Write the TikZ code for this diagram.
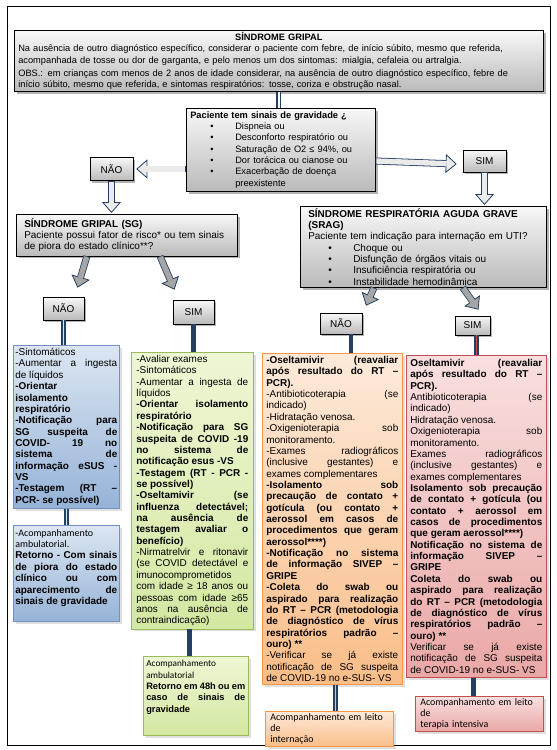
\documentclass[tikz,border=0pt]{standalone}
\usepackage{fontspec}
\setmainfont{Liberation Sans}
\newfontfamily\calibri{Carlito}
\usetikzlibrary{arrows.meta,shadows,calc}

\definecolor{arrnavy}{HTML}{243F60}
\definecolor{arrgray}{HTML}{A6A6A6}
\definecolor{bluetop}{HTML}{DCE6F2}
\definecolor{bluebot}{HTML}{95B3D7}
\definecolor{blueedge}{HTML}{7390C0}
\definecolor{greentop}{HTML}{EEF6D4}
\definecolor{greenbot}{HTML}{D3E8A2}
\definecolor{greenedge}{HTML}{9BBB59}
\definecolor{orangetop}{HTML}{FDEADA}
\definecolor{orangebot}{HTML}{F9BD88}
\definecolor{orangeedge}{HTML}{F79646}
\definecolor{redtop}{HTML}{F9DFDF}
\definecolor{redbot}{HTML}{E9A8A7}
\definecolor{rededge}{HTML}{C0504D}

\newcommand{\bitem}{\hspace*{20bp}\makebox[25bp][l]{\textbullet}}
\newcommand{\smallfont}{\fontsize{9.3}{11.4}\selectfont}
\hyphenpenalty=10000 \exhyphenpenalty=10000
\tolerance=10000 \hbadness=10000

\tikzset{
    every node/.style={font=\fontsize{10}{11.4}\selectfont},
    graybox/.style={draw=black, line width=.6pt, top color=black!3, bottom color=black!27,
    	drop shadow={shadow xshift=2.5pt, shadow yshift=-2.5pt, opacity=.6}},
    choice/.style={graybox, minimum width=#1, minimum height=23bp, inner sep=0pt},
    textbox/.style={anchor=north west, text width=#1, inner xsep=4bp, inner ysep=3bp},
    colbox/.style={align=justify, line width=.6pt, drop shadow={opacity=.25}},
    bluebox/.style={textbox=#1, colbox, draw=blueedge, top color=bluetop, bottom color=bluebot},
    greenbox/.style={textbox=#1, colbox, draw=greenedge, top color=greentop, bottom color=greenbot},
    orangebox/.style={textbox=#1, colbox, draw=orangeedge, top color=orangetop, bottom color=orangebot},
    redbox/.style={textbox=#1, colbox, draw=rededge, top color=redtop, bottom color=redbot}
}
\tikzset{
    blockarr/.style={draw=arrnavy, line width=7pt,
    	-{Triangle[length=11bp, width=19bp, line width=.8pt, fill=#1]},
    	postaction={draw=#1, line width=5.4pt, arrows=-, shorten >=10bp, shorten <=.8pt}},
    blockarr/.default=black!8,
    connbar/.style={draw=arrnavy, line width=5pt},
    stripebar/.style={connbar, postaction={draw=#1, line width=1.2pt}}
}

\begin{document}
\begin{tikzpicture}[x=1bp, y=-1bp]
  \useasboundingbox (0,0) rectangle (557,750);
  \draw[line width=.8pt] (7,6) rectangle (550,745);

  % top
  \node (sgtop) [graybox, textbox=521bp, align=left, inner ysep=2bp, font=\smallfont] at (14,30)
    {{\centering\textbf{SÍNDROME GRIPAL}\par}
     Na ausência de outro diagnóstico específico, considerar o paciente com febre, de início súbito, mesmo que referida,\\
     acompanhada de tosse ou dor de garganta, e pelo menos um dos sintomas: mialgia, cefaleia ou artralgia.\par
     \vspace{1.5bp}OBS.: em crianças com menos de 2 anos de idade considerar, na ausência de outro diagnóstico específico, febre de\\
     início súbito, mesmo que referida, e sintomas respiratórios: tosse, coriza e obstrução nasal.};
  \node (pac) [graybox, textbox=181bp, align=left, font=\smallfont] at (186,108)
    {\textbf{Paciente tem sinais de gravidade ¿}\\
     \bitem Dispneia ou\\
     \bitem Desconforto respiratório ou\\
     \bitem Saturação de O2 ≤ 94\%, ou\\
     \bitem Dor torácica ou cianose ou\\
     \bitem Exacerbação de doença\\
     \hspace*{45bp}preexistente};

  \node (nao1) [choice=43bp] at (111.5,169) {NÃO};
  \node (sim1) [choice=43bp, minimum height=22bp] at (484.5,161) {SIM};

  \node (sg) [graybox, textbox=205bp, align=left, inner xsep=8bp, inner ysep=4bp] at (16,214)
    {\textbf{SÍNDROME GRIPAL (SG)}\\
     Paciente possui fator de risco* ou tem sinais\\
     de piora do estado clínico**?};
  \node (srag) [graybox, textbox=230bp, align=left, inner xsep=8bp, inner ysep=2bp] at (300,206)
    {\textbf{SÍNDROME RESPIRATÓRIA AGUDA GRAVE}\\
     \textbf{(SRAG)}\\
     Paciente tem indicação para internação em UTI?\\
     \bitem Choque ou\\
     \bitem Disfunção de órgãos vitais ou\\
     \bitem Insuficiência respiratória ou\\
     \bitem Instabilidade hemodinâmica};

  \node (nao2) [choice=41bp] at (63.5,308.5) {NÃO};
  \node (sim2) [choice=41bp, minimum height=24bp] at (193.5,312) {SIM};
  \node (nao3) [choice=42bp, minimum height=21bp] at (341,323.5) {NÃO};
  \node (sim3) [choice=35bp, minimum height=19bp] at (472.5,325.5) {SIM};

  % SG sem fator de risco
  \node (blue1) [bluebox=102bp, inner xsep=2bp] at (13,345)
    {-Sintomáticos\\
     -Aumentar a ingesta \linebreak de líquidos\\
     \textbf{-Orientar \linebreak isolamento \linebreak respiratório}\\
     \textbf{-Notificação para \linebreak SG suspeita de \linebreak COVID- 19 no \linebreak sistema de \linebreak informação eSUS - \linebreak VS}\\
     \textbf{-Testagem (RT – \linebreak PCR- se possível)}};
  \node (blue2) [bluebox=102bp, inner xsep=2bp, inner ysep=4bp] at (13,525)
    {{\calibri -Acompanhamento\\ ambulatorial.}\\
     \textbf{Retorno - Com sinais \linebreak de piora do estado \linebreak clínico ou com \linebreak aparecimento de \linebreak sinais de gravidade}\\[2bp]};

  % SG com fator de risco
  \node (green1) [greenbox=112bp, inner xsep=5bp] at (131,352)
    {-Avaliar exames\\
     -Sintomáticos\\
     -Aumentar a ingesta de \linebreak líquidos\\
     \textbf{-Orientar isolamento \linebreak respiratório}\\
     \textbf{-Notificação para SG \linebreak suspeita de COVID -19 \linebreak no sistema de \linebreak notificação esus -VS}\\
     \textbf{-Testagem (RT - PCR - \linebreak se possível)}\\
     \textbf{-Oseltamivir (se \linebreak influenza detectável; \linebreak na ausência de \linebreak testagem avaliar o \linebreak benefício)}\\
     -Nirmatrelvir e ritonavir \linebreak (se COVID detectável e \linebreak imunocomprometidos \linebreak com idade ≥ 18 anos ou \linebreak pessoas com idade ≥65 \linebreak anos na ausência de \linebreak contraindicação)};
  \node (green2) [greenbox=99bp, inner xsep=3bp, inner ysep=4bp, font=\smallfont] at (143,656)
    {{\calibri Acompanhamento\\ ambulatorial}\\
     \textbf{Retorno em 48h ou em \linebreak caso de sinais de \linebreak gravidade}\\[8bp]};

  % SRAG sem UTI
  \node (orange1) [orangebox=132bp] at (262,353)
    {\textbf{-Oseltamivir (reavaliar \linebreak após resultado do RT – \linebreak PCR).}\\
     -Antibioticoterapia (se \linebreak indicado)\\
     -Hidratação venosa.\\
     -Oxigenioterapia sob \linebreak monitoramento.\\
     -Exames radiográficos \linebreak (inclusive gestantes) e \linebreak exames complementares\\
     \textbf{-Isolamento sob \linebreak precaução de contato + \linebreak gotícula (ou contato + \linebreak aerossol em casos de \linebreak procedimentos que geram \linebreak aerossol****)}\\
     \textbf{-Notificação no sistema \linebreak de informação SIVEP – \linebreak GRIPE}\\
     \textbf{-Coleta do swab ou \linebreak aspirado para realização \linebreak do RT – PCR (metodologia \linebreak de diagnóstico de vírus \linebreak respiratórios padrão – \linebreak ouro) **}\\
     -Verificar se já existe \linebreak notificação de SG suspeita \linebreak de COVID-19 no e-SUS- VS};
  \node (orange2) [orangebox=118bp, align=left, inner xsep=5bp, inner ysep=2bp] at (265,711)
    {\calibri Acompanhamento em leito de\\ internação};

  % SRAG com UTI
  \node (red1) [redbox=132bp, inner ysep=4bp] at (406,355)
    {\textbf{Oseltamivir (reavaliar \linebreak após resultado do RT – \linebreak PCR).}\\
     Antibioticoterapia (se \linebreak indicado)\\
     Hidratação venosa.\\
     Oxigenioterapia sob \linebreak monitoramento.\\
     Exames radiográficos \linebreak (inclusive gestantes) e \linebreak exames complementares\\
     \textbf{Isolamento sob precaução \linebreak de contato + gotícula (ou \linebreak contato + aerossol em \linebreak casos de procedimentos \linebreak que geram aerossol****)}\\
     \textbf{Notificação no sistema de \linebreak informação SIVEP – \linebreak GRIPE}\\
     \textbf{Coleta do swab ou \linebreak aspirado para realização \linebreak do RT – PCR (metodologia \linebreak de diagnóstico de vírus \linebreak respiratórios padrão – \linebreak ouro) **}\\
     Verificar se já existe \linebreak notificação de SG suspeita \linebreak de COVID-19 no e-SUS- VS};
  \node (red2) [redbox=118bp, align=left, inner xsep=5bp, inner ysep=2bp] at (415,696)
    {\calibri Acompanhamento em leito de\\ terapia intensiva};

  % arrows
  \draw[draw=arrnavy, line width=1.6pt, double=white, double distance=1.6pt]
    (sgtop.south) -- (sgtop.south |- pac.north);
  \draw[blockarr] (pac.west |- nao1) -- ($(nao1.east)+(3,0)$);
  \draw[blockarr] (pac.east |- sim1) -- ($(sim1.west)+(-6,3)$);
  \draw[blockarr] (nao1.south) -- ($(nao1.south |- sg.north)+(0,-1)$);
  \draw[blockarr] (sim1.south) -- ($(sim1.south |- srag.north)+(0,-1)$);
  \draw[blockarr=arrgray] ($(sg.south west)!.32!(sg.south east)$) -- ($(nao2.north)+(14,-9)$);
  \draw[blockarr=arrgray] ($(sg.south west)!.65!(sg.south east)$) -- ($(sim2.north)+(-19,-10)$);
  \draw[blockarr=arrgray] ($(srag.south west)!.3!(srag.south east)$) -- ($(nao3.north)+(25,-7)$);
  \draw[blockarr=arrgray] ($(srag.south west)!.66!(srag.south east)$) -- ($(sim3.north)+(6,-6)$);

  \draw[stripebar=bluetop] (nao2.south) -- (nao2.south |- blue1.north);
  \draw[stripebar=bluetop] (blue1.south) -- (blue2.north);
  \draw[connbar] (sim2.south) -- (sim2.south |- green1.north);
  \draw[connbar] ($(green1.south -| green2.north)+(-6,0)$) -- ($(green2.north)+(-6,0)$);
  \draw[connbar] ($(nao3.south)+(10,0)$) -- ($(nao3.south |- orange1.north)+(10,0)$);
  \draw[stripebar=orangebot] ($(orange1.south -| orange2.north)+(6,0)$) -- ($(orange2.north)+(6,0)$);
  \draw[stripebar=rededge] ($(sim3.south)+(4,0)$) -- ($(sim3.south |- red1.north)+(4,0)$);
  \draw[connbar] ($(red1.south -| red2.north)+(-6,0)$) -- ($(red2.north)+(-6,0)$);
\end{tikzpicture}
\end{document}
